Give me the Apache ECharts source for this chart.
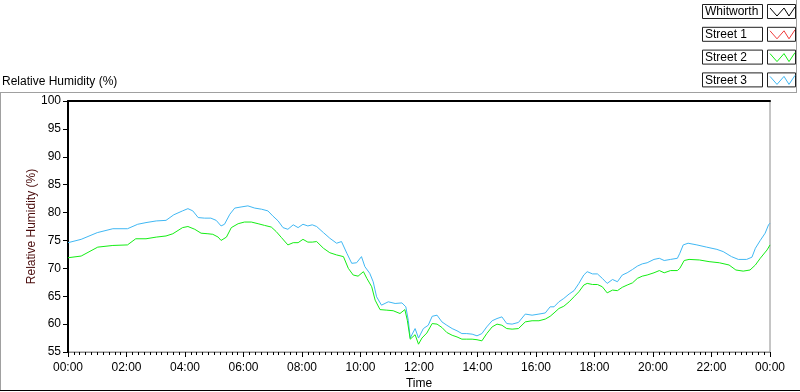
<!DOCTYPE html>
<html>
<head>
<meta charset="utf-8">
<script src="https://cdn.jsdelivr.net/npm/echarts@6/dist/echarts.min.js"></script>
<style>
  html, body { margin: 0; padding: 0; background: #fff; }
  #chart { width: 800px; height: 392px; }
</style>
</head>
<body>
<div id="chart"></div>
<script>
// legend entries (Whitworth and Street 1 have no samples in this view)
const legendNames = ['Whitworth', 'Street 1', 'Street 2', 'Street 3']
const legendColors = ['#000000', '#f03c3c', '#14ee14', '#40b8f4']

// y ticks and x range (minutes since midnight)
const yTicks = [55, 60, 65, 70, 75, 80, 85, 90, 95, 100]
const xRange = [0, 1440]

// Street 3 (light blue), minutes since 00:00 and % RH
const timeStreet3 = [0, 27, 60, 92, 122, 143, 160, 181, 201, 217, 235, 246, 256, 267, 280, 293, 304, 314, 321, 332,
  342, 355, 369, 383, 397, 410, 420, 431, 441, 451, 462, 472, 482, 492, 501, 510, 524, 537, 551, 561,
  572, 582, 592, 602, 609, 619, 626, 633, 643, 657, 671, 685, 693, 698, 702, 712, 719, 729, 739, 747,
  757, 767, 777, 788, 798, 808, 818, 829, 839, 849, 859, 870, 880, 890, 900, 911, 924, 938, 952, 966,
  979, 989, 997, 1007, 1017, 1028, 1038, 1048, 1058, 1065, 1076, 1086, 1096, 1106, 1117, 1127, 1137, 1147, 1158, 1168,
  1178, 1188, 1202, 1213, 1223, 1236, 1250, 1255, 1262, 1272, 1290, 1310, 1331, 1344, 1361, 1375, 1392, 1403, 1410, 1420,
  1430, 1437, 1440]
const street3 = [74.6, 75.2, 76.4, 77.1, 77.1, 77.9, 78.2, 78.5, 78.6, 79.6, 80.3, 80.7, 80.3, 79.1, 79.0, 79.0, 78.6, 77.6, 77.9, 79.7,
  80.8, 81.0, 81.2, 80.8, 80.6, 80.3, 79.4, 78.5, 77.3, 77.0, 77.8, 77.3, 77.9, 77.6, 77.8, 77.5, 76.4, 75.4, 74.5, 74.8,
  72.7, 70.9, 71.0, 72.1, 70.3, 69.1, 67.6, 64.9, 63.4, 64.0, 63.7, 63.8, 63.1, 60.7, 57.5, 59.2, 57.5, 59.2, 59.8, 61.4,
  61.6, 60.4, 59.8, 59.2, 58.8, 58.3, 58.3, 58.2, 57.9, 58.3, 59.5, 60.6, 61.0, 61.3, 60.1, 60.0, 60.3, 61.8, 61.6, 61.8,
  62.0, 63.1, 63.1, 64.0, 64.6, 65.4, 66.0, 67.3, 68.8, 69.4, 69.0, 69.0, 68.2, 67.3, 68.0, 67.6, 68.8, 69.2, 69.8, 70.4,
  70.8, 71.0, 71.6, 71.8, 71.4, 71.6, 71.8, 72.7, 74.2, 74.5, 74.2, 73.8, 73.4, 73.0, 72.1, 71.6, 71.6, 72.0, 73.6, 75.0,
  76.3, 77.8, 78.1]

// Street 2 (green)
const timeStreet2 = [0, 27, 61, 92, 122, 139, 160, 181, 201, 215, 235, 246, 260, 273, 287, 297, 308, 314, 325, 335,
  349, 362, 376, 390, 403, 417, 427, 438, 451, 462, 472, 482, 492, 501, 510, 524, 537, 551, 565, 575,
  585, 595, 606, 613, 623, 630, 640, 654, 667, 681, 691, 696, 702, 712, 719, 726, 736, 747, 757, 767,
  777, 788, 798, 808, 818, 829, 839, 849, 859, 870, 880, 890, 900, 911, 924, 938, 952, 966, 979, 989,
  997, 1007, 1017, 1028, 1038, 1048, 1058, 1065, 1076, 1086, 1096, 1106, 1117, 1127, 1137, 1147, 1158, 1168, 1178, 1188,
  1202, 1213, 1223, 1236, 1250, 1255, 1264, 1274, 1295, 1315, 1336, 1356, 1370, 1385, 1399, 1410, 1420, 1434, 1440]
const street2 = [71.9, 72.2, 73.8, 74.1, 74.2, 75.3, 75.3, 75.6, 75.8, 76.2, 77.3, 77.5, 77.0, 76.3, 76.2, 76.1, 75.6, 75.0, 75.6, 77.3,
  78.0, 78.3, 78.3, 78.0, 77.7, 77.4, 76.6, 75.5, 74.2, 74.6, 74.6, 75.2, 74.7, 74.7, 74.8, 73.6, 72.8, 72.4, 72.1, 70.0,
  68.8, 68.6, 69.4, 68.2, 66.7, 64.3, 62.6, 62.5, 62.4, 61.9, 62.6, 60.7, 57.3, 58.1, 56.4, 57.5, 58.4, 60.1, 60.0, 59.4,
  58.5, 58.0, 57.7, 57.3, 57.3, 57.3, 57.2, 57.0, 58.3, 59.5, 60.0, 59.8, 59.2, 59.1, 59.2, 60.4, 60.6, 60.6, 60.9, 61.4,
  62.0, 62.8, 63.2, 64.0, 64.9, 65.8, 67.0, 67.3, 67.1, 67.1, 66.7, 65.6, 66.1, 66.0, 66.6, 67.0, 67.4, 68.2, 68.6, 68.8,
  69.2, 69.6, 69.2, 69.6, 69.6, 70.0, 71.4, 71.6, 71.5, 71.2, 71.0, 70.6, 69.7, 69.5, 69.7, 70.6, 71.8, 73.3, 74.2]

const font = 'Liberation Sans, Arial, sans-serif'
const chartIns = echarts.init(document.getElementById('chart'))

const pad = n => (n < 10 ? '0' : '') + n
const fmtTime = v => pad(Math.floor(v / 60) % 24) + ':' + pad(Math.round(v % 60))

// legend boxes drawn like the LabVIEW plot legend
const legendGraphics = []
legendNames.forEach((name, i) => {
  const y0 = 4 + i * 22.8
  legendGraphics.push({
    type: 'rect', shape: { x: 702.5, y: y0 + 0.5, width: 60, height: 14 },
    style: { fill: '#fff', stroke: '#202020', lineWidth: 1 }
  })
  legendGraphics.push({
    type: 'text', x: 705, y: y0 + 8,
    style: { text: name, font: '12px ' + font, fill: '#000', verticalAlign: 'middle' }
  })
  legendGraphics.push({
    type: 'rect', shape: { x: 767.5, y: y0 + 0.5, width: 28, height: 14 },
    style: { fill: '#fff', stroke: '#202020', lineWidth: 1 }
  })
  legendGraphics.push({
    type: 'polyline',
    shape: { points: [[770, y0 + 4], [777, y0 + 12], [784, y0 + 4], [789, y0 + 12], [795, y0 + 3]] },
    style: { stroke: legendColors[i], lineWidth: 1, fill: null }
  })
})

const frameGraphics = [
  { type: 'line', shape: { x1: 0, y1: 92.5, x2: 796, y2: 92.5 }, style: { stroke: '#a0a0a0', lineWidth: 1 } },
  { type: 'line', shape: { x1: 796.5, y1: 0, x2: 796.5, y2: 93 }, style: { stroke: '#a0a0a0', lineWidth: 1 } },
  { type: 'line', shape: { x1: 0.5, y1: 92, x2: 0.5, y2: 391 }, style: { stroke: '#a0a0a0', lineWidth: 1 } },
  { type: 'line', shape: { x1: 0, y1: 390.5, x2: 800, y2: 390.5 }, style: { stroke: '#000', lineWidth: 1 } },
  {
    type: 'text', x: 2, y: 82,
    style: { text: 'Relative Humidity (%)', font: '12px ' + font, fill: '#000', verticalAlign: 'middle' }
  }
]

const option = {
  backgroundColor: '#fff',
  animation: false,
  grid: {
    left: 68, right: 30, top: 101, bottom: 40,
    outerBoundsMode: 'none', containLabel: false,
    show: true, borderColor: '#8c8c8c', borderWidth: 1
  },
  xAxis: [
    {
      type: 'value', min: xRange[0], max: xRange[1], interval: 120,
      name: 'Time', nameLocation: 'middle', nameGap: 26, nameMoveOverlap: false,
      nameTextStyle: { color: '#000', fontFamily: font, fontSize: 12 },
      axisLine: { show: true, lineStyle: { color: '#8c8c8c', width: 1 } },
      axisTick: { show: true, length: 5, lineStyle: { color: '#000' } },
      minorTick: { show: true, splitNumber: 10, length: 3, lineStyle: { color: '#000' } },
      axisLabel: { color: '#000', fontFamily: font, fontSize: 12, margin: 10, formatter: fmtTime },
      splitLine: { show: false }
    },
    {
      type: 'value', position: 'top', min: xRange[0], max: xRange[1],
      axisLine: { show: true, lineStyle: { color: '#000', width: 2 } },
      axisTick: { show: false }, axisLabel: { show: false }, splitLine: { show: false }
    }
  ],
  yAxis: {
    type: 'value', min: yTicks[0], max: yTicks[yTicks.length - 1], interval: 5,
    name: 'Relative Humidity (%)', nameLocation: 'middle', nameGap: 30, nameMoveOverlap: false,
    nameTextStyle: { color: '#4a0c0c', fontFamily: font, fontSize: 12 },
    axisLine: { show: true, lineStyle: { color: '#000', width: 2 } },
    axisTick: { show: true, length: 5, lineStyle: { color: '#000' } },
    axisLabel: { color: '#000', fontFamily: font, fontSize: 12, margin: 7 },
    splitLine: { show: false }
  },
  series: [
    {
      name: 'Street 3', type: 'line', showSymbol: false, symbol: 'none',
      data: timeStreet3.map((t, i) => [t, street3[i]]),
      lineStyle: { color: legendColors[3], width: 1 }
    },
    {
      name: 'Street 2', type: 'line', showSymbol: false, symbol: 'none',
      data: timeStreet2.map((t, i) => [t, street2[i]]),
      lineStyle: { color: legendColors[2], width: 1 }
    }
  ],
  graphic: legendGraphics.concat(frameGraphics)
}

chartIns.setOption(option)
</script>
</body>
</html>
